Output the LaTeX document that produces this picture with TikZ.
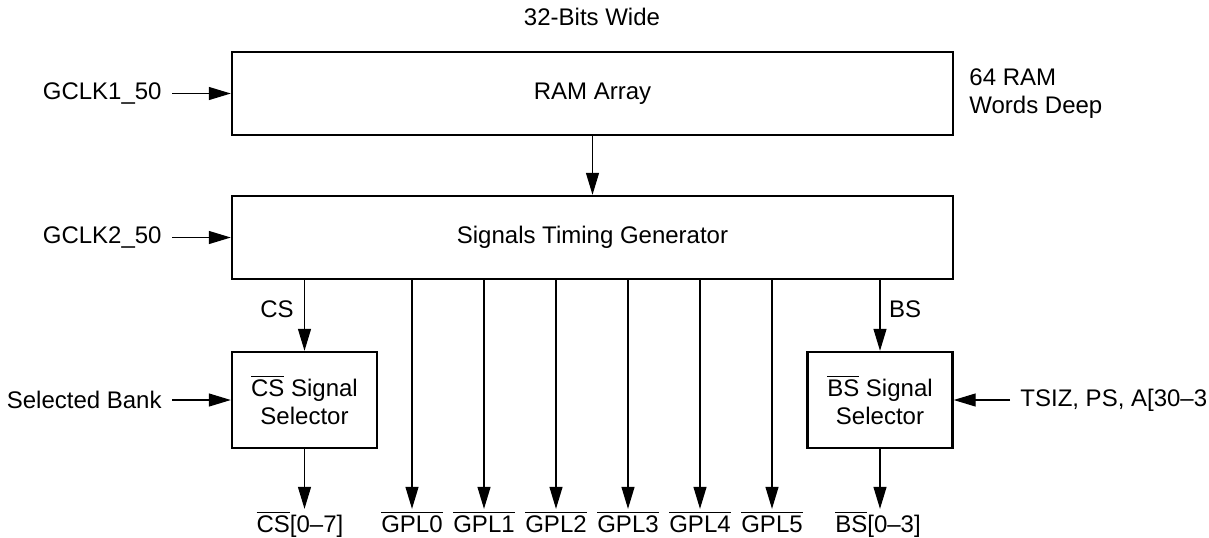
\documentclass[tikz,border=0pt]{standalone}
\usepackage{fontspec}
\setmainfont{Liberation Sans}
\usetikzlibrary{arrows.meta}

\begin{document}
\begin{tikzpicture}[
    x=0.5pt, y=-0.5pt,
    font=\fontsize{12}{14}\selectfont,
    block/.style={draw, line width=1.2pt, minimum width=360.5pt, minimum height=41.5pt, align=center},
    selbox/.style={draw, line width=1.2pt, minimum width=72.5pt, minimum height=48pt, align=center},
    lbl/.style={inner sep=1.5pt},
    inlbl/.style={inner sep=5pt},
    arr/.style={-{Triangle[length=11pt,width=6.5pt]}, line width=0.6pt}
]
\useasboundingbox (0,0) rectangle (1209,537);

\node[block] (ram) at (592.5,93.5) {RAM Array};
\node[block] (stg) at (592.5,237.5) {Signals Timing Generator};
\node[selbox] (cssel) at (304.5,400) {$\overline{\mbox{CS}}$ Signal\\Selector};
\node[selbox] (bssel) at (880,400) {$\overline{\mbox{BS}}$ Signal\\Selector};

\node[lbl] (width) at (592,17) {32-Bits Wide};
\node[lbl, anchor=west, align=left] (depth) at (966,94) {64 RAM\\Words Deep};
\node[inlbl, anchor=east] (clk1) at (172,93.5) {GCLK1\_50};
\node[inlbl, anchor=east] (clk2) at (172,237.5) {GCLK2\_50};
\node[inlbl, anchor=east] (bank) at (172,400) {Selected Bank};
\node[inlbl, anchor=west] (tsiz) at (1010,400) {TSIZ, PS, A[30–3};
\node[lbl] (cs) at (277,309) {CS};
\node[lbl] (bs) at (905,309) {BS};

\node[lbl, anchor=base, inner sep=1pt] (csout) at (300,532) {$\overline{\mbox{CS}}$[0–7]};
\node[lbl, anchor=base, inner sep=1pt] (bsout) at (878,532) {$\overline{\mbox{BS}}$[0–3]};
\foreach \i in {0,...,5}
    \node[lbl, anchor=base, inner sep=1pt] (gpl\i) at (412+72*\i,532) {$\overline{\mbox{GPL\i}}$};

\draw[arr] (clk1.east) -- (clk1.east -| ram.west);
\draw[arr] (clk2.east) -- (clk2.east -| stg.west);
\draw[arr] (ram.south) -- (stg.north);
\draw[arr] (cssel.north |- stg.south) -- (cssel.north);
\draw[arr] (bssel.north |- stg.south) -- (bssel.north);
\draw[arr] (bank.east) -- (cssel.west);
\draw[arr] (tsiz.west) -- (bssel.east);
\draw[arr] (cssel.south) -- (cssel.south |- csout.north);
\draw[arr] (bssel.south) -- (bssel.south |- bsout.north);
\foreach \i in {0,...,5}
    \draw[arr] (gpl\i.north |- stg.south) -- (gpl\i.north);
\end{tikzpicture}
\end{document}
